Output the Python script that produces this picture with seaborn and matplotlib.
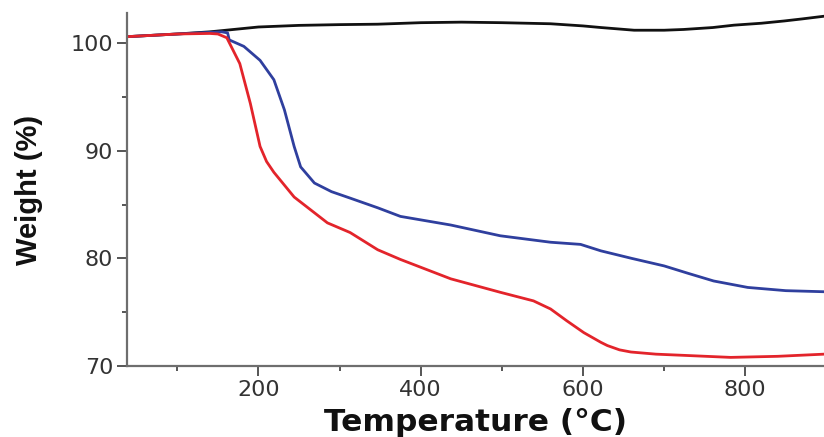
import matplotlib
matplotlib.use("Agg")
import matplotlib.pyplot as plt
import seaborn as sns
from matplotlib.ticker import MultipleLocator, FixedLocator

# Data
black_T = [38, 100, 140, 200, 250, 300, 347, 400, 450, 500, 560, 600, 622, 663, 700, 724, 760, 786, 820, 848, 870, 897]
black_w = [100.6, 100.85, 101.05, 101.5, 101.65, 101.72, 101.76, 101.9, 101.95, 101.9, 101.8, 101.6, 101.45, 101.2, 101.2, 101.27, 101.45, 101.67, 101.85, 102.06, 102.25, 102.5]

blue_T = [38, 100, 140, 155, 162, 164, 170, 182, 202, 219, 232, 244, 252, 269, 290, 313, 347, 375, 437, 498, 560, 597, 622, 660, 700, 730, 761, 803, 850, 897]
blue_w = [100.6, 100.85, 101.0, 101.05, 100.95, 100.3, 100.1, 99.7, 98.4, 96.6, 93.8, 90.4, 88.5, 87.0, 86.2, 85.6, 84.7, 83.9, 83.1, 82.1, 81.5, 81.3, 80.7, 80.0, 79.3, 78.6, 77.9, 77.3, 77.0, 76.9]

red_T = [38, 100, 140, 150, 161, 177, 190, 202, 210, 219, 244, 285, 313, 347, 375, 437, 498, 539, 560, 580, 601, 622, 630, 645, 659, 690, 721, 782, 840, 897]
red_w = [100.6, 100.85, 100.9, 100.85, 100.5, 98.1, 94.4, 90.4, 89.0, 88.0, 85.7, 83.3, 82.4, 80.8, 79.9, 78.1, 76.85, 76.05, 75.3, 74.2, 73.1, 72.2, 71.9, 71.5, 71.3, 71.1, 71.0, 70.8, 70.9, 71.1]

x_major = [200, 400, 600, 800]
y_major = [70, 80, 90, 100]

sns.set_style("ticks")
plt.rcParams['font.family'] = ['DejaVu Sans']

fig = plt.figure(figsize=(8.24, 4.37), dpi=100)
ax = fig.add_axes([127/824, 1 - 366/437, 1 - 127/824, (366 - 13)/437])

sns.lineplot(x=black_T, y=black_w, ax=ax, color="#111111", linewidth=2.0, sort=False)
sns.lineplot(x=blue_T, y=blue_w, ax=ax, color="#2f3f9e", linewidth=2.0, sort=False)
sns.lineplot(x=red_T, y=red_w, ax=ax, color="#e3242b", linewidth=2.0, sort=False)

ax.set_xlim(38, 897)
ax.set_ylim(70, 102.8)
ax.xaxis.set_major_locator(FixedLocator(x_major))
ax.yaxis.set_major_locator(FixedLocator(y_major))
ax.xaxis.set_minor_locator(MultipleLocator(100))
ax.yaxis.set_minor_locator(MultipleLocator(5))

for s in ["top", "right"]:
    ax.spines[s].set_visible(False)
for s in ["left", "bottom"]:
    ax.spines[s].set_color("#6e6e6e")
    ax.spines[s].set_linewidth(1.6)

ax.tick_params(axis="both", which="major", direction="out", length=7, width=1.4,
               color="#555555", labelsize=16, labelcolor="#333333", pad=3)
ax.tick_params(axis="both", which="minor", direction="out", length=3.5, width=1.4,
               color="#555555")

ax.set_xlabel("Temperature (°C)", fontsize=22.5, fontweight="bold", color="#111111", labelpad=6)
ax.set_ylabel("Weight (%)", fontsize=21, fontweight="bold", color="#111111",
              family=["Liberation Sans", "DejaVu Sans"])
ax.yaxis.set_label_coords(-0.12, 0.5)

fig.savefig("out.png", dpi=100)
